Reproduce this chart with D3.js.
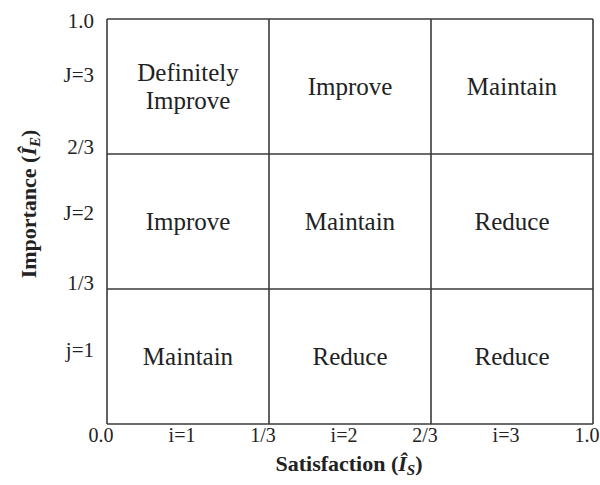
<!DOCTYPE html>
<html><head><meta charset="utf-8">
<script src="https://cdn.jsdelivr.net/npm/d3@7"></script>
<style>
body{margin:0;background:#fff;}
text{font-family:"Liberation Serif","Times New Roman","DejaVu Serif",serif;fill:#222;}
</style></head>
<body><svg id="c" width="600" height="485"></svg>
<script>
// Grid boundaries (data space, 0..1 on both axes)
const xBounds = [0, 1/3, 2/3, 1];
const yBounds = [0, 1/3, 2/3, 1];
// Cell recommendations: rows from top (j=3) to bottom (j=1), columns i=1..3
const rowsJ = [3, 2, 1];
const colsI = [1, 2, 3];
const cellLabels = [
  ["Definitely\nImprove", "Improve", "Maintain"],
  ["Improve", "Maintain", "Reduce"],
  ["Maintain", "Reduce", "Reduce"]
];
// Axis tick labels
const xTickValues = [0, 1/6, 1/3, 1/2, 2/3, 5/6, 1];
const xTickLabels = ["0.0", "i=1", "1/3", "i=2", "2/3", "i=3", "1.0"];
const yTickValues = [0.995, 0.862, 0.684, 0.523, 0.348, 0.183];
const yTickLabels = ["1.0", "J=3", "2/3", "J=2", "1/3", "j=1"];

const svg = d3.select("#c");
const m = {left:107, right:7, top:19, bottom:61};
const W = 600, H = 485;
const x = d3.scaleLinear().domain([0,1]).range([m.left, W - m.right]);
const y = d3.scaleLinear().domain([0,1]).range([H - m.bottom, m.top]);

const g = svg.append("g");
const stroke = "#3a3a3a";
// grid lines
g.selectAll("line.v").data(xBounds).join("line")
  .attr("class","v")
  .attr("x1", d=>x(d)).attr("x2", d=>x(d)).attr("y1", y(0)).attr("y2", y(1))
  .attr("stroke", stroke).attr("stroke-width", 1.6);
g.selectAll("line.h").data(yBounds).join("line")
  .attr("class","h")
  .attr("y1", d=>y(d)).attr("y2", d=>y(d)).attr("x1", x(0)).attr("x2", x(1))
  .attr("stroke", stroke).attr("stroke-width", 1.6);

// cell labels
const cells = [];
rowsJ.forEach((j, r) => colsI.forEach((i, c) => {
  cells.push({i, j, label: cellLabels[r][c]});
}));
cells.forEach(d => {
  const cx = x((xBounds[d.i-1] + xBounds[d.i]) / 2);
  const cy = y((yBounds[d.j-1] + yBounds[d.j]) / 2);
  const lines = d.label.split("\n");
  const t = g.append("text").attr("text-anchor","middle")
    .attr("font-size", 25);
  lines.forEach((ln, k) => {
    t.append("tspan").attr("x", cx)
      .attr("y", cy + (k - (lines.length-1)/2) * 28)
      .attr("dy", "0.35em").text(ln);
  });
});

// x axis labels
g.selectAll("text.xt").data(xTickValues).join("text")
  .attr("class","xt").attr("x", d=>x(d) - 6).attr("y", y(0) + 18)
  .attr("text-anchor","middle").attr("font-size", 20)
  .text((d,k)=>xTickLabels[k]);
// y axis labels
g.selectAll("text.yt").data(yTickValues).join("text")
  .attr("class","yt").attr("x", x(0) - 13).attr("y", d=>y(d))
  .attr("dy","0.35em")
  .attr("text-anchor","end").attr("font-size", 21)
  .text((d,k)=>yTickLabels[k]);

// axis titles
const xt = g.append("text").attr("x", 349).attr("y", 471)
  .attr("text-anchor","middle").attr("font-size", 22).attr("font-weight","bold");
xt.append("tspan").text("Satisfaction (");
xt.append("tspan").attr("font-style","italic").text("\u00CE");
xt.append("tspan").attr("font-style","italic").attr("font-size", 15).attr("dy", 4).text("S");
xt.append("tspan").attr("dy", -4).text(")");

const yt = g.append("text").attr("transform","translate(36,204) rotate(-90)")
  .attr("text-anchor","middle").attr("font-size", 22).attr("font-weight","bold");
yt.append("tspan").text("Importance (");
yt.append("tspan").attr("font-style","italic").text("\u00CE");
yt.append("tspan").attr("font-style","italic").attr("font-size", 15).attr("dy", 4).text("E");
yt.append("tspan").attr("dy", -4).text(")");
</script></body></html>
